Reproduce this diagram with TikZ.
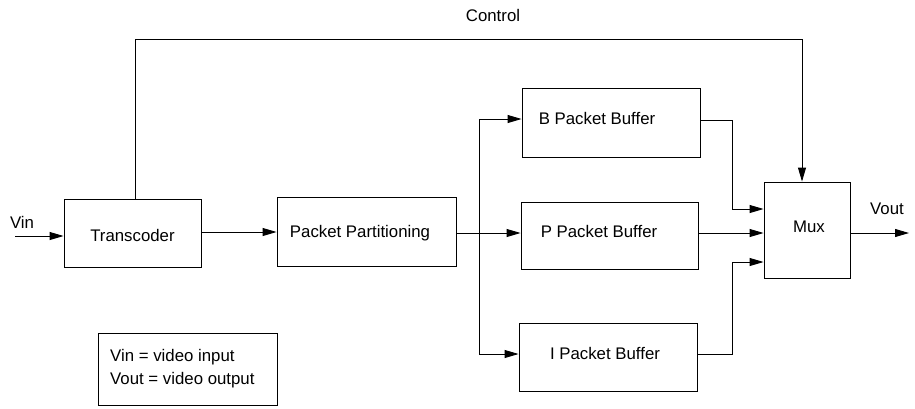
\documentclass[tikz,border=0pt]{standalone}
\usepackage{fontspec}
\setmainfont{Liberation Sans}
\usetikzlibrary{arrows.meta,calc}
\begin{document}
\begin{tikzpicture}[x=1pt,y=-1pt,
  every node/.style={font=\fontsize{16.8}{23}\selectfont},
  blk/.style={draw,line width=0.9pt,inner sep=0pt},
  txt/.style={inner sep=0pt},
  wire/.style={line width=0.9pt},
  arr/.style={line width=0.9pt,-{Triangle[length=14pt,width=8pt]}}]
\useasboundingbox (0,0) rectangle (915,408);
% boxes
\node[blk,minimum width=137pt,minimum height=68pt] (trans) at (132.5,233) {};
\node[txt] (transT) at (132.5,235) {Transcoder};
\node[blk,minimum width=179pt,minimum height=69pt] (part) at (366.5,231.5) {};
\node[txt] (partT) at (360,233) {Packet Partitioning};
\node[blk,minimum width=178pt,minimum height=69pt] (bbuf) at (611,122.5) {};
\node[txt] (bbufT) at (597,118) {B Packet Buffer};
\node[blk,minimum width=177pt,minimum height=67pt] (pbuf) at (609.5,235.5) {};
\node[txt] (pbufT) at (599,231) {P Packet Buffer};
\node[blk,minimum width=178pt,minimum height=68pt] (ibuf) at (608,357) {};
\node[txt] (ibufT) at (605,353) {I Packet Buffer};
\node[blk,minimum width=86pt,minimum height=96pt] (mux) at (807,230) {};
\node[txt] (muxT) at (809,227) {Mux};
\node[blk,minimum width=179pt,minimum height=72pt] (leg) at (187.5,369) {};
\node[txt,anchor=west,align=left] (legT) at (110,368.5) {Vin = video input\\Vout = video output};
% labels
\node[txt] (vinL) at (22,222) {Vin};
\node[txt] (voutL) at (887,209) {Vout};
\node[txt] (ctrlL) at (493,15) {Control};
% coordinates
\coordinate (vin) at (15,236);
\coordinate (vout) at (909,233);
\coordinate (c1) at (135,39);
\coordinate (c2) at (802,39);
\coordinate (br) at (479,233);
\coordinate (jb) at (732,120);
\coordinate (ji) at (732,354);
% connectors
\draw[arr] (vin) -- (vin -| trans.west);
\draw[arr] (trans.east |- 0,232) -- (part.west |- 0,232);
\draw[wire] (c1 |- trans.north) -- (c1) -- (c2);
\draw[arr] (c2) -- (c2 |- mux.north);
\draw[arr] (part.east |- br) -- (pbuf.west |- br);
\draw[arr] (br) |- (bbuf.west |- 0,119);
\draw[arr] (br) |- (ibuf.west |- 0,354);
\draw[arr] (bbuf.east |- jb) -- (jb) |- (mux.west |- 0,209);
\draw[arr] (pbuf.east |- 0,233) -- (mux.west |- 0,233);
\draw[arr] (ibuf.east |- ji) -- (ji) |- (mux.west |- 0,262);
\draw[arr] (mux.east |- vout) -- (vout);
\end{tikzpicture}
\end{document}
